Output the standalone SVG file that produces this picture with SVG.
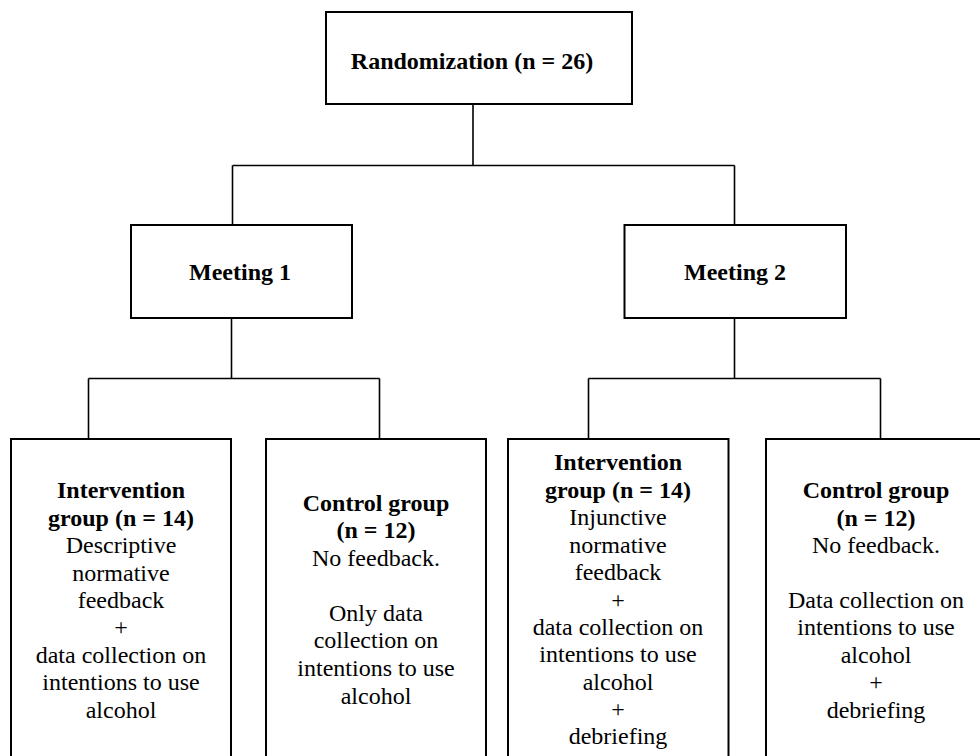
<svg xmlns="http://www.w3.org/2000/svg" width="980" height="756" viewBox="0 0 980 756">
<style>
.box{fill:#fff;stroke:#000;stroke-width:2}
.ln{fill:none;stroke:#000;stroke-width:1.6}
text{font-family:'Liberation Serif','Times New Roman',Times,'DejaVu Serif',serif;font-size:24px;fill:#000;text-anchor:middle}
.b{font-weight:bold}
</style>
<rect width="980" height="756" fill="#fff"/>
<g id="connectors">
<path class="ln" d="M473 104V165.5M232.5 165.5H734.5M232.5 165.5V225M734.5 165.5V225"/>
<path class="ln" d="M231.5 318V378.5M88.5 378.5H379.5M88.5 378.5V439M379.5 378.5V439"/>
<path class="ln" d="M734.5 318V378.5M588.5 378.5H880.5M588.5 378.5V439M880.5 378.5V439"/>
</g>
<g id="randomization">
<rect class="box" x="326" y="12" width="306" height="92"/>
<text class="b" x="472" y="69" font-family="Liberation Serif, serif">Randomization (n = 26)</text>
</g>
<g id="meeting1">
<rect class="box" x="131" y="225" width="221" height="93"/>
<text class="b" x="240" y="280">Meeting 1</text>
</g>
<g id="meeting2">
<rect class="box" x="624.5" y="225" width="221.5" height="93"/>
<text class="b" x="735" y="280">Meeting 2</text>
</g>
<g id="intervention1">
<rect class="box" x="11" y="439" width="220" height="330"/>
<text x="121"><tspan class="b" x="121" y="498">Intervention</tspan><tspan class="b" x="121" y="526">group (n = 14)</tspan><tspan x="121" y="553">Descriptive</tspan><tspan x="121" y="580.5">normative</tspan><tspan x="121" y="608">feedback</tspan><tspan x="121" y="635">+</tspan><tspan x="121" y="662.5">data collection on</tspan><tspan x="121" y="690">intentions to use</tspan><tspan x="121" y="717.5">alcohol</tspan></text>
</g>
<g id="control1">
<rect class="box" x="266" y="439" width="220" height="330"/>
<text x="376"><tspan class="b" x="376" y="510.5">Control group</tspan><tspan class="b" x="376" y="538">(n = 12)</tspan><tspan x="376" y="565.5">No feedback.</tspan><tspan x="376" y="620.5">Only data</tspan><tspan x="376" y="648">collection on</tspan><tspan x="376" y="676">intentions to use</tspan><tspan x="376" y="704">alcohol</tspan></text>
</g>
<g id="intervention2">
<rect class="box" x="508" y="439" width="220.5" height="330"/>
<text x="618"><tspan class="b" x="618" y="470">Intervention</tspan><tspan class="b" x="618" y="497.5">group (n = 14)</tspan><tspan x="618" y="525">Injunctive</tspan><tspan x="618" y="552.5">normative</tspan><tspan x="618" y="580">feedback</tspan><tspan x="618" y="607.5">+</tspan><tspan x="618" y="634.5">data collection on</tspan><tspan x="618" y="662">intentions to use</tspan><tspan x="618" y="689.5">alcohol</tspan><tspan x="618" y="717">+</tspan><tspan x="618" y="744">debriefing</tspan></text>
</g>
<g id="control2">
<rect class="box" x="766" y="439" width="222" height="330"/>
<text x="876"><tspan class="b" x="876" y="498">Control group</tspan><tspan class="b" x="876" y="526">(n = 12)</tspan><tspan x="876" y="553">No feedback.</tspan><tspan x="876" y="607.5">Data collection on</tspan><tspan x="876" y="635">intentions to use</tspan><tspan x="876" y="662.5">alcohol</tspan><tspan x="876" y="690">+</tspan><tspan x="876" y="717.5">debriefing</tspan></text>
</g>
</svg>
